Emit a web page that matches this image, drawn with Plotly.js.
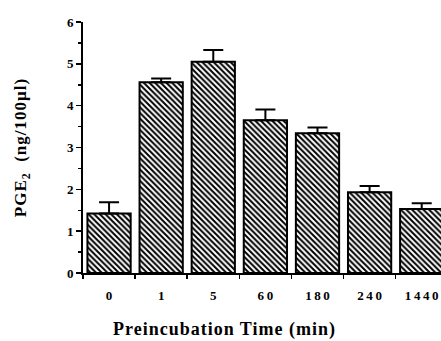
<!DOCTYPE html>
<html>
<head>
<meta charset="utf-8">
<script src="https://cdn.plot.ly/plotly-3.0.1.min.js"></script>
<style>
html,body{margin:0;padding:0;background:#fff;overflow:hidden;}
.ytitle{letter-spacing:1px;}
.xtitle-ann text{letter-spacing:1px;}
</style>
</head>
<body>
<div id="chart" style="width:441px;height:341px;"></div>
<script>
const categories = ["0", "1", "5", "60", "180", "240", "1440"];
const pgeValues = [1.42, 4.56, 5.05, 3.65, 3.34, 1.93, 1.53];
const pgeErrors = [0.27, 0.09, 0.28, 0.26, 0.14, 0.15, 0.14];
const yTicks = [0, 1, 2, 3, 4, 5, 6];

const serif = "Liberation Serif, Times New Roman, serif";
const tickText = categories.map(s => s.split("").join("\u2009"));

const trace = {
  type: "bar",
  x: categories,
  y: pgeValues,
  marker: {
    color: "white",
    line: {color: "black", width: 2},
    pattern: {shape: "\\", size: 4, solidity: 0.5, fgcolor: "black", bgcolor: "white"}
  },
  error_y: {
    type: "data",
    symmetric: false,
    array: pgeErrors,
    arrayminus: pgeErrors.map(() => 0),
    color: "black",
    thickness: 2,
    width: 10
  },
  hoverinfo: "none"
};

const layout = {
  width: 441,
  height: 341,
  margin: {l: 83, r: 0, t: 22, b: 68},
  paper_bgcolor: "white",
  plot_bgcolor: "white",
  showlegend: false,
  bargap: 0.17,
  font: {family: serif, color: "black"},
  xaxis: {
    type: "category",
    range: [-0.5, 6.37],
    tickmode: "array",
    tickvals: categories,
    ticktext: tickText,
    tickson: "boundaries",
    ticks: "outside",
    ticklen: 4,
    tickwidth: 1.5,
    tickcolor: "black",
    ticklabelstandoff: 9,
    showline: true,
    linecolor: "black",
    linewidth: 2,
    showgrid: false,
    zeroline: false,
    tickfont: {family: serif, size: 13, color: "black", weight: "bold"}
  },
  yaxis: {
    range: [0, 6],
    tickvals: yTicks,
    ticks: "outside",
    ticklen: 5,
    tickwidth: 1.5,
    tickcolor: "black",
    showline: true,
    linecolor: "black",
    linewidth: 2,
    showgrid: false,
    zeroline: false,
    minor: {dtick: 0.5, ticks: "outside", ticklen: 3, tickwidth: 1.5, tickcolor: "black"},
    tickfont: {family: serif, size: 13, color: "black", weight: "bold"},
    title: {text: "PGE<sub>2</sub>  (ng/100µl)", font: {family: serif, size: 17, color: "black", weight: "bold"}, standoff: 36}
  },
  annotations: [{
    text: "Preincubation Time (min)",
    xref: "paper", yref: "paper",
    x: 0.394, y: -0.225,
    xanchor: "center", yanchor: "middle",
    showarrow: false,
    font: {family: serif, size: 18, color: "black", weight: "bold"}
  }]
};

Plotly.newPlot("chart", [trace], layout, {displayModeBar: false, staticPlot: true}).then(() => {
  document.querySelectorAll(".annotation").forEach(a => a.classList.add("xtitle-ann"));
});
</script>
</body>
</html>
